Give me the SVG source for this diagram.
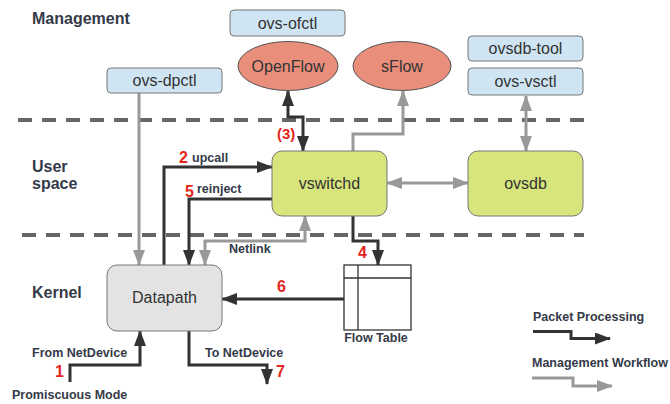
<svg xmlns="http://www.w3.org/2000/svg" width="670" height="404" viewBox="0 0 670 404">
<defs>
<style>
.sec{font-family:"Liberation Sans",Arial,sans-serif;font-weight:bold;font-size:16px;fill:#343a48}
.lbl{font-family:"Liberation Sans",Arial,sans-serif;font-weight:bold;font-size:12.5px;fill:#343a48}
.num{font-family:"Liberation Sans",Arial,sans-serif;font-weight:bold;font-size:16px;fill:#e3261c}
.nt{font-family:"Liberation Sans",Arial,sans-serif;font-size:16px;fill:#333;text-anchor:middle}
.tool{fill:#d0e5f3;stroke:#777;stroke-width:1}
.green{fill:#d7e57c;stroke:#777;stroke-width:1}
.ell{fill:#e98e7b;stroke:#555;stroke-width:1}
.dash{stroke:#666;stroke-width:4;stroke-dasharray:14 10;fill:none}
.blk{stroke:#333;stroke-width:3;fill:none}
.gry{stroke:#999;stroke-width:3;fill:none}
</style>
<marker id="ab" markerUnits="userSpaceOnUse" markerWidth="16" markerHeight="12" refX="15" refY="6" orient="auto-start-reverse"><path d="M0,0 L16,6 L0,12 z" fill="#333"/></marker>
<marker id="ag" markerUnits="userSpaceOnUse" markerWidth="16" markerHeight="12" refX="15" refY="6" orient="auto-start-reverse"><path d="M0,0 L16,6 L0,12 z" fill="#999"/></marker>
</defs>
<rect width="670" height="404" fill="#fff"/>

<g id="layers">
<line class="dash" x1="18" y1="120" x2="584" y2="120"/>
<line class="dash" x1="22" y1="235" x2="584" y2="235"/>
<text class="sec" x="32" y="24">Management</text>
<text class="sec" x="32" y="172">User</text>
<text class="sec" x="32" y="189">space</text>
<text class="sec" x="32" y="298">Kernel</text>
</g>

<g id="connectors">
<path class="gry" d="M139,93 V265" marker-end="url(#ag)"/>
<path class="blk" d="M164,265 V167 H272" marker-end="url(#ab)"/>
<path class="blk" d="M272,199 H189 V265" marker-end="url(#ab)"/>
<path class="gry" d="M205,265 V241 H305 V216" marker-start="url(#ag)" marker-end="url(#ag)"/>
<path class="blk" d="M288,91 V117 H303 V151" marker-start="url(#ab)" marker-end="url(#ab)"/>
<path class="gry" d="M353,151 V134 H403 V91" marker-end="url(#ag)"/>
<path class="gry" d="M526,96 V151" marker-start="url(#ag)" marker-end="url(#ag)"/>
<path class="gry" d="M387,183 H468" marker-start="url(#ag)" marker-end="url(#ag)"/>
<path class="blk" d="M353,216 V241 H378 V265" marker-end="url(#ab)"/>
<path class="blk" d="M344,299 H222" marker-end="url(#ab)"/>
<path class="blk" d="M70,382 V365 H140 V331" marker-end="url(#ab)"/>
<path class="blk" d="M189,331 V365 H267 V384" marker-end="url(#ab)"/>
<text class="num" x="179" y="163">2</text>
<text class="lbl" x="192" y="162">upcall</text>
<text class="num" x="185" y="197">5</text>
<text class="lbl" x="197" y="193">reinject</text>
<text class="lbl" x="229" y="253">Netlink</text>
<text class="num" x="277" y="139" style="font-size:15px">(3)</text>
<text class="num" x="358" y="258">4</text>
<text class="num" x="277" y="292">6</text>
<text class="lbl" x="32" y="357">From NetDevice</text>
<text class="num" x="55" y="377">1</text>
<text class="lbl" x="12" y="399">Promiscuous Mode</text>
<text class="lbl" x="205" y="357">To NetDevice</text>
<text class="num" x="276" y="377">7</text>
</g>

<g id="ovs-dpctl"><rect class="tool" x="107" y="68" width="115" height="25" rx="4"/><text class="nt" x="164.5" y="86">ovs-dpctl</text></g>
<g id="ovs-ofctl"><rect class="tool" x="230" y="10" width="115" height="26" rx="4"/><text class="nt" x="287.5" y="29">ovs-ofctl</text></g>
<g id="openflow"><ellipse class="ell" cx="288" cy="66" rx="50" ry="24.5"/><text class="nt" x="288" y="72">OpenFlow</text></g>
<g id="sflow"><ellipse class="ell" cx="402" cy="66" rx="49" ry="24.5"/><text class="nt" x="402" y="72">sFlow</text></g>
<g id="ovsdb-tool"><rect class="tool" x="468" y="36" width="115" height="25" rx="4"/><text class="nt" x="525.5" y="54">ovsdb-tool</text></g>
<g id="ovs-vsctl"><rect class="tool" x="468" y="68" width="115" height="27" rx="4"/><text class="nt" x="525.5" y="87">ovs-vsctl</text></g>
<g id="vswitchd"><rect class="green" x="272" y="151" width="115" height="65" rx="10"/><text class="nt" x="329.5" y="189">vswitchd</text></g>
<g id="ovsdb"><rect class="green" x="468" y="151" width="115" height="65" rx="10"/><text class="nt" x="525.5" y="189">ovsdb</text></g>
<g id="datapath"><rect x="107" y="265" width="115" height="66" rx="10" fill="#e3e3e3" stroke="#777" stroke-width="1"/><text class="nt" x="164.5" y="303">Datapath</text></g>
<g id="flow-table">
<rect x="344" y="265" width="67" height="65" fill="#fff" stroke="#333" stroke-width="1.3"/>
<line x1="358" y1="265" x2="358" y2="330" stroke="#333" stroke-width="1.3"/>
<line x1="344" y1="278" x2="411" y2="278" stroke="#333" stroke-width="1.3"/>
<text class="lbl" x="376" y="342" text-anchor="middle">Flow Table</text>
</g>

<g id="legend">
<text class="lbl" x="533" y="321">Packet Processing</text>
<path class="blk" d="M533,331.5 H571 V338.5 H610" marker-end="url(#ab)"/>
<text class="lbl" x="532" y="367">Management Workflow</text>
<path class="gry" d="M532,378 H573 V386 H612" marker-end="url(#ag)"/>
</g>
</svg>
